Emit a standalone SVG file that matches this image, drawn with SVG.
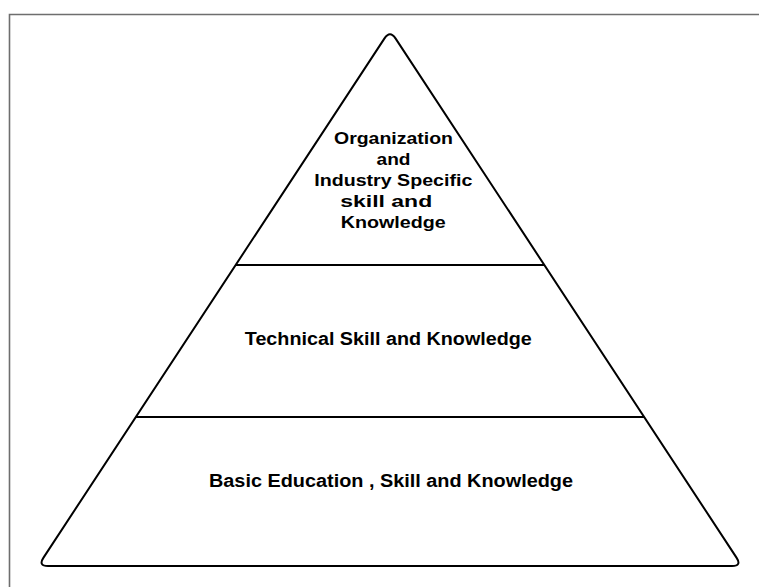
<svg xmlns="http://www.w3.org/2000/svg" width="759" height="587" viewBox="0 0 759 587">
  <style>
    .frame { fill: none; stroke: #6e6e6e; stroke-width: 1.6; }
    .tri { fill: #ffffff; stroke: #000000; stroke-width: 2; stroke-linejoin: round; }
    .divider { stroke: #000000; stroke-width: 2; }
    .label { font-family: "Liberation Sans", Arial, sans-serif; font-weight: bold; font-size: 16.5px; fill: #000000; text-anchor: middle; }
    .label.wide { font-size: 17.5px; }
  </style>
  <rect width="759" height="587" fill="#ffffff"/>

  <!-- page frame -->
  <path class="frame" d="M9.5 587 V14.5 H759"/>

  <!-- pyramid outline with rounded corners -->
  <g id="pyramid">
    <path class="tri" d="M384.5 38.4 L43.5 557.6 Q38 566 48 566 L732 566 Q742 566 736.5 557.6 L395.5 38.4 Q390 30 384.5 38.4 Z"/>
  </g>

  <!-- level dividers -->
  <g id="connectors">
    <line class="divider" x1="235.7" y1="265" x2="544.3" y2="265"/>
    <line class="divider" x1="135.9" y1="417" x2="644.1" y2="417"/>
  </g>

  <g id="level-top">
    <text class="label" x="393.5" y="143.5" textLength="119" lengthAdjust="spacingAndGlyphs">Organization</text>
    <text class="label" x="393.5" y="164.5" textLength="34" lengthAdjust="spacingAndGlyphs">and</text>
    <text class="label" x="393.3" y="185.5" textLength="158" lengthAdjust="spacingAndGlyphs">Industry Specific</text>
    <text class="label" x="386.2" y="206.5" textLength="92" lengthAdjust="spacingAndGlyphs">skill and</text>
    <text class="label" x="393.3" y="227.5" textLength="105" lengthAdjust="spacingAndGlyphs">Knowledge</text>
  </g>

  <g id="level-middle">
    <text class="label wide" x="388.3" y="345" textLength="287" lengthAdjust="spacingAndGlyphs">Technical Skill and Knowledge</text>
  </g>

  <g id="level-base">
    <text class="label wide" x="391" y="487" textLength="364" lengthAdjust="spacingAndGlyphs">Basic Education , Skill and Knowledge</text>
  </g>
</svg>
